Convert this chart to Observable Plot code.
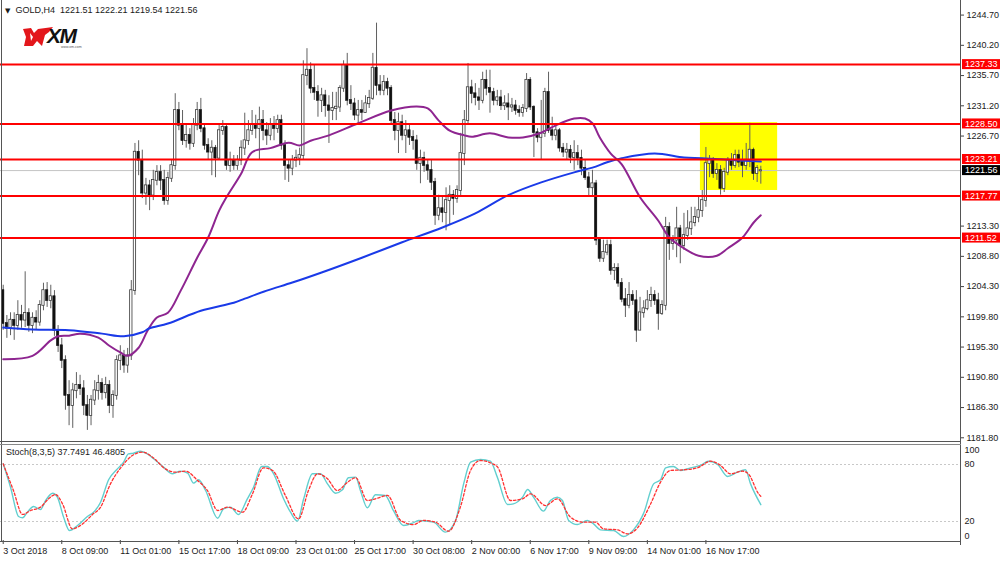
<!DOCTYPE html>
<html><head><meta charset="utf-8">
<script src="https://cdn.jsdelivr.net/npm/d3@7"></script>
<script src="https://cdn.jsdelivr.net/npm/@observablehq/plot@0.6"></script>
<style>
html,body{margin:0;padding:0;background:#fff;}
#wrap{position:relative;width:1000px;height:561px;overflow:hidden;font-family:"Liberation Sans",Arial,sans-serif;background:#fff;}
#main,#stoch{position:absolute;left:0;}
#main{top:0;}
#stoch{top:442px;}
.ov{position:absolute;font-size:9px;color:#1a1a1a;white-space:nowrap;line-height:10px;}
.ln{position:absolute;background:#555;}
</style></head><body>
<div id="wrap">
  <div id="main"></div>
  <div id="stoch"></div>
  <div class="ln" style="left:1px;top:0;width:1px;height:541px;"></div>
  <div class="ln" style="left:960px;top:0;width:1px;height:545px;"></div>
  <div class="ln" style="left:0;top:441px;width:961px;height:1px;"></div>
  <div class="ln" style="left:0;top:444px;width:961px;height:1px;background:#888;"></div>
  <div class="ln" style="left:0;top:541px;width:961px;height:1px;"></div>
  <div class="ov" id="hdr" style="left:5px;top:5px;"></div>
  <div class="ov" id="shdr" style="left:6px;top:447px;"></div>
  <svg style="position:absolute;left:20px;top:24px;" width="70" height="26" viewBox="20 24 70 26">
    <path d="M23,29 L31,28 L34,33 L38,29 L53,27 L49,32 L45,35 L42,46 L37,41 L33,46 L24,46 L26,37 Z" fill="#e3161b"/>
    <path d="M30,33 L33,37 L31,41 Z" fill="#fff"/>
    <text x="47" y="43" font-family="Liberation Sans, Arial" font-weight="bold" font-style="italic" font-size="21" letter-spacing="-1.5" fill="#111">XM</text>
    <text x="61" y="48" font-family="Liberation Sans, Arial" font-size="3.5" fill="#555">www.xm.com</text>
  </svg>
</div>
<script>
// ---------- data ----------
const barOpen = [
1203.7,1198.8,1198.1,1199.3,1198.5,1200.0,1199.3,1200.3,1198.5,1199.6,
1199.0,1201.5,1203.7,1202.2,1202.8,1197.8,1195.5,1193.3,1188.1,1186.6,
1188.8,1189.6,1189.1,1186.6,1185.1,1187.4,1188.8,1189.9,1188.5,1189.6,
1186.6,1188.1,1193.3,1194.0,1192.6,1194.0,1203.7,1224.3,1223.1,1218.2,
1219.3,1217.9,1220.1,1221.3,1220.1,1217.1,1220.4,1222.3,1230.5,1228.3,
1226.0,1226.8,1225.6,1228.3,1230.5,1227.8,1225.3,1224.3,1224.9,1223.4,
1227.5,1228.0,1222.3,1223.1,1222.3,1223.1,1224.9,1226.0,1227.5,1228.3,
1227.8,1229.0,1227.5,1226.8,1228.3,1227.8,1229.0,1225.3,1222.3,1221.9,
1223.1,1223.4,1223.8,1235.7,1236.5,1233.8,1233.2,1232.0,1232.7,1231.2,
1230.5,1230.8,1231.0,1233.8,1237.2,1232.0,1231.5,1229.8,1230.5,1230.2,
1231.5,1232.3,1236.8,1234.2,1233.5,1234.7,1233.8,1229.0,1227.5,1228.7,
1226.8,1227.5,1226.5,1226.0,1222.6,1223.4,1222.3,1221.6,1219.8,1214.9,
1215.9,1215.3,1217.1,1217.9,1217.4,1218.6,1224.1,1229.0,1233.9,1233.0,
1232.4,1232.0,1235.0,1233.8,1233.2,1232.0,1232.4,1231.2,1231.5,1231.0,
1231.2,1230.5,1230.2,1230.8,1235.0,1231.0,1227.2,1226.5,1227.1,1233.2,
1227.5,1226.8,1227.5,1224.9,1224.3,1224.6,1223.5,1224.1,1223.4,1221.9,
1220.5,1219.0,1219.6,1211.2,1208.5,1209.4,1210.4,1206.7,1207.0,1204.8,
1202.4,1201.5,1203.0,1202.2,1197.8,1200.4,1201.0,1202.2,1203.0,1202.2,
1200.3,1201.5,1213.1,1210.7,1211.2,1212.9,1210.4,1211.9,1212.9,1213.8,
1214.6,1215.6,1217.1,1222.6,1223.1,1221.1,1221.6,1218.9,1221.3,1223.1,
1222.3,1223.8,1222.8,1222.3,1223.1,1224.6,1221.1,1221.51];
const barHigh = [
1204.5,1200.0,1200.4,1200.4,1202.2,1201.5,1206.5,1201.0,1200.4,1200.7,
1202.2,1204.8,1204.9,1204.5,1203.7,1198.5,1196.6,1194.0,1190.3,1189.9,
1191.5,1191.1,1190.3,1188.1,1188.1,1190.3,1191.1,1190.6,1190.8,1190.3,
1188.8,1194.0,1195.5,1194.8,1195.1,1205.2,1225.6,1226.0,1224.6,1220.4,
1220.1,1221.6,1222.3,1222.3,1221.6,1221.3,1223.1,1233.0,1231.7,1230.5,
1228.3,1227.8,1229.3,1231.7,1232.3,1228.3,1226.3,1226.0,1225.3,1228.3,
1229.0,1228.4,1224.3,1223.8,1223.8,1226.0,1230.1,1229.0,1230.5,1229.8,
1231.0,1230.5,1228.7,1229.3,1229.6,1229.8,1229.8,1226.0,1223.1,1223.8,
1224.6,1224.9,1237.9,1239.7,1237.6,1237.2,1234.2,1233.8,1233.5,1232.7,
1233.2,1233.2,1234.2,1237.9,1239.0,1234.2,1232.3,1232.0,1232.0,1232.7,
1233.5,1239.0,1243.5,1235.7,1235.7,1235.3,1234.2,1230.2,1230.1,1229.8,
1229.0,1228.3,1227.5,1226.8,1224.6,1224.3,1223.1,1223.1,1220.4,1217.9,
1217.6,1219.0,1219.3,1218.6,1219.3,1227.1,1230.5,1237.5,1235.0,1234.5,
1233.8,1236.2,1236.5,1236.5,1233.8,1233.5,1233.5,1232.7,1233.0,1232.3,
1232.0,1231.2,1231.4,1236.0,1235.4,1231.2,1227.8,1232.0,1233.8,1236.2,
1229.5,1228.3,1227.8,1225.6,1225.6,1225.3,1226.0,1225.3,1224.6,1223.1,
1221.3,1221.6,1220.1,1211.6,1211.2,1211.2,1211.2,1207.7,1207.7,1205.5,
1204.0,1204.9,1203.7,1203.7,1202.7,1202.2,1203.7,1204.2,1203.7,1203.3,
1202.2,1214.6,1213.8,1211.9,1216.1,1213.4,1215.2,1215.6,1216.1,1216.1,
1217.6,1218.6,1225.0,1223.8,1223.5,1222.6,1222.3,1221.9,1223.5,1224.1,
1224.6,1224.6,1224.6,1225.6,1228.6,1224.9,1222.3,1222.21];
const barLow = [
1197.8,1196.6,1197.0,1196.3,1197.8,1198.1,1198.2,1197.5,1197.3,1197.8,
1198.4,1200.7,1201.2,1201.0,1196.9,1194.5,1192.1,1185.9,1183.6,1183.2,
1187.6,1188.1,1185.1,1182.9,1183.6,1186.6,1187.4,1187.4,1187.6,1185.4,
1184.7,1187.4,1191.8,1191.4,1191.4,1193.3,1203.0,1220.8,1217.4,1216.4,
1215.6,1217.1,1219.3,1218.6,1216.4,1216.4,1219.8,1221.6,1227.5,1225.3,
1224.9,1224.6,1225.0,1227.5,1227.2,1224.6,1223.1,1220.8,1220.5,1223.1,
1226.8,1221.6,1221.3,1221.6,1221.6,1222.3,1223.8,1225.3,1226.8,1226.3,
1223.1,1226.0,1225.3,1226.0,1226.0,1227.1,1224.6,1220.1,1219.8,1220.8,
1222.0,1222.3,1223.1,1234.2,1233.0,1232.0,1229.5,1230.2,1229.5,1225.6,
1229.0,1229.0,1230.2,1233.2,1231.2,1230.5,1229.0,1228.6,1229.0,1230.1,
1230.8,1232.0,1232.7,1232.7,1232.7,1232.7,1228.3,1226.0,1224.1,1226.0,
1224.1,1225.3,1224.6,1221.6,1219.6,1221.3,1220.1,1218.6,1213.4,1214.1,
1213.8,1212.6,1213.4,1214.9,1216.7,1217.6,1222.3,1228.3,1231.5,1231.2,
1230.5,1231.5,1232.7,1230.1,1231.2,1231.2,1230.5,1230.5,1229.0,1230.2,
1229.8,1229.5,1229.5,1230.2,1230.5,1223.5,1225.7,1223.1,1226.5,1227.1,
1226.0,1226.0,1224.3,1223.5,1223.1,1222.6,1221.6,1222.3,1220.8,1220.1,
1217.6,1217.6,1210.4,1207.9,1207.9,1208.9,1206.0,1205.2,1204.2,1201.9,
1199.7,1201.0,1201.5,1196.0,1197.8,1199.6,1200.7,1201.2,1201.5,1197.8,
1200.0,1200.7,1208.2,1209.7,1208.6,1207.7,1209.7,1211.2,1211.9,1213.2,
1213.8,1214.6,1216.1,1220.5,1220.4,1220.1,1217.9,1218.3,1220.8,1221.6,
1221.9,1222.0,1220.5,1221.6,1222.0,1220.1,1219.8,1219.54];
const barClose = [
1198.8,1198.1,1199.3,1198.5,1200.0,1199.3,1200.3,1198.5,1199.6,1199.0,
1201.5,1203.7,1202.2,1202.8,1197.8,1195.5,1193.3,1188.1,1186.6,1188.8,
1189.6,1189.1,1186.6,1185.1,1187.4,1188.8,1189.9,1188.5,1189.6,1186.6,
1188.1,1193.3,1194.0,1192.6,1194.0,1203.7,1224.3,1223.1,1218.2,1219.3,
1217.9,1220.1,1221.3,1220.1,1217.1,1220.4,1222.3,1230.5,1228.3,1226.0,
1226.8,1225.6,1228.3,1230.5,1227.8,1225.3,1224.3,1224.9,1223.4,1227.5,
1228.0,1222.3,1223.1,1222.3,1223.1,1224.9,1226.0,1227.5,1228.3,1227.8,
1229.0,1227.5,1226.8,1228.3,1227.8,1229.0,1225.3,1222.3,1221.9,1223.1,
1223.4,1223.8,1235.7,1236.5,1233.8,1233.2,1232.0,1232.7,1231.2,1230.5,
1230.8,1231.0,1233.8,1237.2,1232.0,1231.5,1229.8,1230.5,1230.2,1231.5,
1232.3,1236.8,1234.2,1233.5,1234.7,1233.8,1229.0,1227.5,1228.7,1226.8,
1227.5,1226.5,1226.0,1222.6,1223.4,1222.3,1221.6,1219.8,1214.9,1215.9,
1215.3,1217.1,1217.9,1217.4,1218.6,1224.1,1229.0,1233.9,1233.0,1232.4,
1232.0,1235.0,1233.8,1233.2,1232.0,1232.4,1231.2,1231.5,1231.0,1231.2,
1230.5,1230.2,1230.8,1235.0,1231.0,1227.2,1226.5,1227.1,1233.2,1227.5,
1226.8,1227.5,1224.9,1224.3,1224.6,1223.5,1224.1,1223.4,1221.9,1220.5,
1219.0,1219.6,1211.2,1208.5,1209.4,1210.4,1206.7,1207.0,1204.8,1202.4,
1201.5,1203.0,1202.2,1197.8,1200.4,1201.0,1202.2,1203.0,1202.2,1200.3,
1201.5,1213.1,1210.7,1211.2,1212.9,1210.4,1211.9,1212.9,1213.8,1214.6,
1215.6,1217.1,1222.6,1223.1,1221.1,1221.6,1218.9,1221.3,1223.1,1222.3,
1223.8,1222.8,1222.3,1223.1,1224.6,1221.1,1221.9,1221.56];

// moving averages (bar index, price)
const maFastIdx = [0,8,13,15,18,21,26,29,32,34,37,39.5,42,45,48.5,53,56,59,61,65,68,73,78,81,84,89,97,106,113,116,119,122,126,128,133,138,142,147,151,156,159,161,163,166,169,174,179,182,186,190,195,198,202,205,207];
const maFastVal = [1193.5,1194.0,1196.3,1196.9,1197.0,1197.3,1196.7,1195.5,1194.5,1194.0,1195.2,1197.8,1199.7,1200.4,1203.7,1208.6,1211.6,1215.6,1217.6,1221.1,1224.3,1224.9,1225.7,1225.3,1226.0,1226.8,1228.6,1230.5,1231.1,1230.8,1229.0,1227.5,1226.8,1226.6,1227.1,1226.5,1226.5,1227.2,1228.3,1229.3,1229.3,1228.6,1226.5,1224.1,1222.5,1217.6,1214.1,1211.6,1210.0,1208.9,1208.9,1210.0,1211.6,1213.8,1214.9];
const maSlowIdx = [0,8,18,27,33,38,40,45,54,63,66,72,79,87,98,109,120,129,138,147,156,161,165,169,178,186,191,200,207];
const maSlowVal = [1198.2,1197.9,1197.8,1197.3,1196.9,1197.5,1198.1,1198.8,1200.7,1201.9,1202.5,1203.7,1204.9,1206.4,1208.6,1210.9,1213.1,1215.2,1217.9,1219.8,1221.3,1222.0,1222.8,1223.4,1224.1,1223.5,1223.4,1223.1,1222.9];

// stochastic (8,3,5)
const stochKIdx = [0,2,4.2,5.3,6.6,8.3,10.2,11.6,13.5,14.8,16.5,18.1,20.3,23,24.7,26.6,28.8,31.2,32.9,34.2,35.6,37.5,39.4,41.1,43.8,46.3,48.4,50.4,52,53.4,55.3,58.6,60.2,62.1,64.3,66.7,68.4,70.6,72.2,73.9,76.6,78.5,80.4,82.1,84.5,86.7,88.6,90.8,92.7,94.3,96.3,97.6,99.5,101.7,104.4,106.6,109.4,111.8,113.5,117.6,120.8,123.6,125.8,127.7,130.4,133.1,135,137.8,139.4,141.9,143.3,144.9,147.6,149.5,151.4,152.8,154.5,156.9,159.6,161.3,163.2,166.8,169.5,172.2,175,177.7,179.6,181,183.1,185.1,187.8,190.5,192.7,195.2,197.9,200.6,202.8,204.2,207];
const stochKVal = [80.7,56,25.3,23.9,29.8,35.8,32.6,42.1,49.8,45.6,24.6,10.5,15.8,25.3,29.8,40.3,63.9,75.4,82.5,91.2,91.9,94,91.2,86,77.2,70.2,73,70.9,60.4,63.9,52.6,23.5,33.3,35.1,27.4,43.9,56.1,77.9,77.9,70.2,43.9,29.8,20.4,43.9,70.2,70.2,59.6,49.8,53.3,66,66.7,52.6,34.4,48.1,47.4,31.6,15.8,18.2,21.1,19.3,8.8,21.1,59.6,82.5,85.3,83.5,66.7,37.9,38.6,45.6,53.7,45.6,30.9,42.1,45.6,42.1,21.1,16.8,21.1,17.5,11.2,10.5,4.2,11.2,28.8,59.6,63.9,76.5,77.9,73.7,76.5,79,83.5,80,67.4,71.9,74.4,59.6,37.7];
const stochDIdx = [0,2.8,5.3,7.5,10.2,12.4,14.3,16.2,18.9,21.7,24.4,26.6,29.3,32.1,35.3,38.1,40.8,44.3,47.1,49.8,53.1,55.8,58.6,61.3,65.4,68.1,71.1,73.6,77.1,80.7,83.4,85.9,88.6,91.3,94.1,96.3,99.5,101.7,105,108.6,112.1,114.8,118.1,121.7,124.9,127.7,130.4,133.7,135.1,138.6,141.9,144.1,148.2,151.4,155,158.5,161.8,164,167.8,170.6,173.3,176.9,179.6,182.3,185.9,189.7,193.3,196,198.7,202,203.6,206.4,207];
const stochDVal = [80.7,52.6,27.4,31.6,35.1,43.9,48.4,38.6,12.3,17.5,27.4,35.1,59.6,76.5,89.5,93,87.7,75.4,71.9,73,63.2,52.6,31.6,35.1,29.8,49.1,76.5,73.7,47.4,22.8,52.6,70.2,64.9,52.6,61.4,66,42.1,43.9,47.4,21.1,16.8,21.1,19.3,9.8,35.1,73.7,84.2,80.7,77.2,42.1,43.9,49.1,36.8,43.9,24.6,19.3,19.3,12.3,11.2,7.0,13.3,38.6,61.4,73.7,74.4,76.5,83.5,79,70.2,73,70.2,49.1,46.5];

// levels, ticks, labels
const levelPrices = [1237.33, 1228.50, 1223.21, 1217.77, 1211.52];
const lastPrice = 1221.56;
const priceTicks = [1244.70,1240.20,1235.70,1231.20,1226.70,1213.30,1208.80,1204.30,1199.80,1195.30,1190.80,1186.30,1181.80];
const stochLevels = [80, 20];
const stochTickLabels = [100, 80, 20, 0];
const xTickIdx = [0,16,32,48,64,80,96,112,128,144,160,176,192];
const xTickLabels = ["3 Oct 2018","8 Oct 09:00","11 Oct 01:00","15 Oct 17:00","18 Oct 09:00","23 Oct 01:00","25 Oct 17:00","30 Oct 08:00","2 Nov 00:00","6 Nov 17:00","9 Nov 09:00","14 Nov 01:00","16 Nov 17:00"];
const boxIdx = [190.5, 211.6];
const boxPrice = [1218.6, 1228.7];
const headerText = ["GOLD,H4", "1221.51", "1222.21", "1219.54", "1221.56"];
const stochText = ["Stoch(8,3,5)", "37.7491", "46.4805"];

// ---------- build ----------
const FONT = "Liberation Sans, Arial, sans-serif";
const xDomain = [-0.74, 261.56];
const bars = barClose.map((c, i) => ({i, o: barOpen[i], h: barHigh[i], l: barLow[i], c}));
const maFast = maFastIdx.map((x, k) => ({x, y: maFastVal[k]}));
const maSlow = maSlowIdx.map((x, k) => ({x, y: maSlowVal[k]}));
const kLine = stochKIdx.map((x, k) => ({x, y: stochKVal[k]}));
const dLine = stochDIdx.map((x, k) => ({x, y: stochDVal[k]}));
const labelMap = new Map(xTickIdx.map((d, k) => [d, xTickLabels[k]]));

const tagMark = (index, scales, values, dims) => {
  const g = d3.create("svg:g").attr("text-anchor", "start");
  const x0 = dims.width - dims.marginRight;
  const tags = levelPrices.map(v => ({v, bg: "#ff0000"})).concat([{v: lastPrice, bg: "#000000"}]);
  for (const t of tags) {
    const y = scales.y(t.v);
    g.append("rect").attr("x", x0 + 2).attr("y", y - 5).attr("width", 40).attr("height", 10).attr("fill", t.bg);
    g.append("text").attr("x", x0 + 5).attr("y", y).attr("dy", "0.35em").attr("text-anchor", "start")
      .attr("fill", "#fff").attr("font-size", 9).attr("font-family", FONT).text(t.v.toFixed(2));
  }
  return g.node();
};

const main = Plot.plot({
  width: 1000, height: 442,
  marginLeft: 0, marginRight: 40, marginTop: 0, marginBottom: 0,
  x: {domain: xDomain, axis: null},
  y: {domain: [1181.10, 1246.87], axis: null},
  style: {fontFamily: FONT, fontSize: "9px", color: "#1a1a1a", background: "transparent"},
  marks: [
    Plot.rect([0], {x1: () => boxIdx[0], x2: () => boxIdx[1], y1: () => boxPrice[0], y2: () => boxPrice[1], fill: "#ffff00"}),
    Plot.ruleY([lastPrice], {stroke: "#c4c4c4", strokeWidth: 1}),
    Plot.ruleX(bars, {x: "i", y1: "l", y2: "h", stroke: "#606060", strokeWidth: 1}),
    Plot.rect(bars, {filter: d => d.c >= d.o, x1: d => d.i - 0.32, x2: d => d.i + 0.32, y1: "o", y2: "c",
      fill: "#ffffff", stroke: "#3a3a3a", strokeWidth: 0.8, insetTop: -0.4, insetBottom: -0.4}),
    Plot.rect(bars, {filter: d => d.c < d.o, x1: d => d.i - 0.32, x2: d => d.i + 0.32, y1: "o", y2: "c",
      fill: "#111111", stroke: "#111", strokeWidth: 0.6, insetTop: -0.4, insetBottom: -0.4}),
    Plot.line(maFast, {x: "x", y: "y", stroke: "#8e2590", strokeWidth: 2, curve: "catmull-rom"}),
    Plot.line(maSlow, {x: "x", y: "y", stroke: "#1a3ae8", strokeWidth: 2, curve: "catmull-rom"}),
    Plot.ruleY(levelPrices, {stroke: "#ff0000", strokeWidth: 2}),
    Plot.axisY(priceTicks, {anchor: "right", tickSize: 3, tickPadding: 3, tickFormat: d => d.toFixed(2), fontSize: 9, stroke: "#444", label: null}),
    tagMark
  ]
});
document.getElementById("main").appendChild(main);

const stoch = Plot.plot({
  width: 1000, height: 119,
  marginLeft: 0, marginRight: 40, marginTop: 3, marginBottom: 21,
  x: {domain: xDomain, axis: null},
  y: {domain: [0, 100], axis: null},
  style: {fontFamily: FONT, fontSize: "9px", color: "#1a1a1a", background: "transparent"},
  marks: [
    Plot.ruleY(stochLevels, {stroke: "#c8c8c8", strokeDasharray: "2,2"}),
    Plot.line(kLine, {x: "x", y: "y", stroke: "#62cfcf", strokeWidth: 1.4, curve: "monotone-x"}),
    Plot.line(dLine, {x: "x", y: "y", stroke: "#ff3030", strokeWidth: 1.3, strokeDasharray: "2.5,2", curve: "monotone-x"}),
    Plot.text(stochTickLabels.filter(d => d === 80 || d === 20), {y: d => d, text: d => String(d), frameAnchor: "right", dx: 4, textAnchor: "start", fontSize: 9}),
    Plot.text(stochTickLabels.filter(d => d === 100), {y: d => d, text: d => String(d), frameAnchor: "right", dx: 4, dy: 5, textAnchor: "start", fontSize: 9}),
    Plot.text(stochTickLabels.filter(d => d === 0), {y: d => d, text: d => String(d), frameAnchor: "right", dx: 4, dy: -4, textAnchor: "start", fontSize: 9}),
    Plot.axisX(xTickIdx, {anchor: "bottom", tickSize: 4, tickPadding: 3, tickFormat: d => labelMap.get(d), textAnchor: "start", fontSize: 9, stroke: "#444", label: null})
  ]
});
document.getElementById("stoch").appendChild(stoch);

document.getElementById("hdr").innerHTML = '<span style="font-family:DejaVu Sans;font-size:7px;">&#9660;</span>&nbsp; ' + headerText[0] + '&nbsp; ' + headerText.slice(1).join(" ");
document.getElementById("shdr").textContent = stochText.join(" ");
</script>
</body></html>
